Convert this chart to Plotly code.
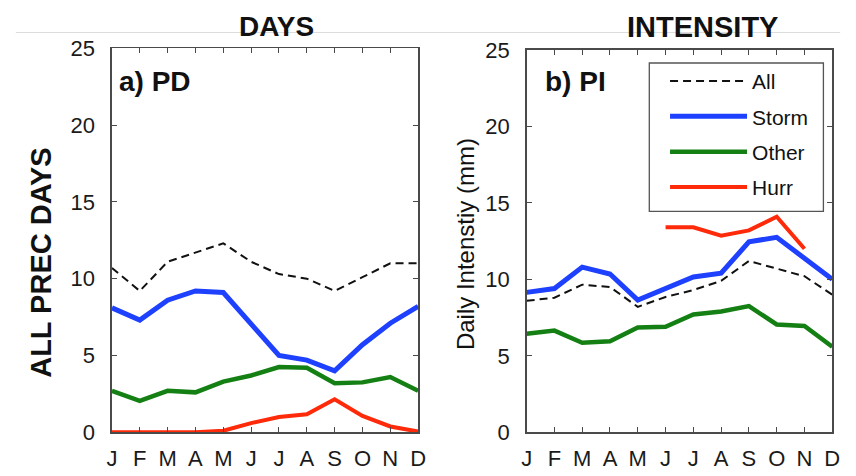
import plotly.graph_objects as go

# ---------------- data ----------------
months = ["J", "F", "M", "A", "M", "J", "J", "A", "S", "O", "N", "D"]
month_idx = list(range(12))

# a) PD : precipitation days
pd_all = [10.7, 9.2, 11.1, 11.7, 12.3, 11.1, 10.3, 10.0, 9.2, 10.1, 11.0, 11.0]
pd_storm = [8.1, 7.3, 8.6, 9.2, 9.1, 7.1, 5.0, 4.7, 4.0, 5.7, 7.1, 8.2]
pd_other = [2.7, 2.05, 2.7, 2.6, 3.3, 3.7, 4.25, 4.2, 3.2, 3.25, 3.6, 2.7]
pd_hurr = [0.0, 0.0, 0.0, 0.0, 0.1, 0.6, 1.0, 1.17, 2.15, 1.07, 0.38, 0.05]

# b) PI : daily intensity (mm)
pi_all = [8.6, 8.8, 9.65, 9.5, 8.2, 8.85, 9.3, 9.9, 11.2, 10.7, 10.2, 9.0]
pi_storm = [9.15, 9.4, 10.8, 10.35, 8.65, 9.4, 10.15, 10.4, 12.45, 12.75, 11.4, 10.0]
pi_other = [6.45, 6.65, 5.85, 5.95, 6.85, 6.9, 7.7, 7.9, 8.25, 7.05, 6.95, 5.6]
pi_hurr = [None, None, None, None, None, 13.4, 13.4, 12.85, 13.2, 14.1, 12.0, None]

y_ticks = [0, 5, 10, 15, 20, 25]

# ---------------- styling ----------------
W, H = 856, 476
FONT = "Liberation Sans, Arial, sans-serif"
C_ALL, C_STORM, C_OTHER, C_HURR = "#111111", "#1e40ff", "#148014", "#ff2a0a"
AX_COL = "#4a4a4a"
# measured: picture_y = 8.1 + 0.9646 * page_y (horizontal is 1:1)
V_OFF, V_SCALE = 8.1, 0.9646


def px(x):
    """picture x -> paper x"""
    return x / W


def page_y(y):
    return (y - V_OFF) / V_SCALE


def py(y):
    """picture y -> paper y"""
    return 1 - page_y(y) / H


fig = go.Figure()

series = [
    ("All", C_ALL, 2, "8px,5px", pd_all, pi_all),
    ("Storm", C_STORM, 5, "solid", pd_storm, pi_storm),
    ("Other", C_OTHER, 4.5, "solid", pd_other, pi_other),
    ("Hurr", C_HURR, 4, "solid", pd_hurr, pi_hurr),
]

for name, col, w, dash, ya, yb in series:
    fig.add_trace(go.Scatter(x=month_idx, y=ya, mode="lines", name=name,
                             line=dict(color=col, width=w, dash=dash),
                             xaxis="x", yaxis="y", showlegend=False,
                             hoverinfo="skip"))
for name, col, w, dash, ya, yb in series:
    fig.add_trace(go.Scatter(x=month_idx, y=yb, mode="lines", name=name,
                             line=dict(color=col, width=w, dash=dash),
                             xaxis="x2", yaxis="y2", showlegend=True,
                             legendgroup=name, hoverinfo="skip"))

xcommon = dict(range=[0, 11], tickvals=month_idx, ticktext=months,
               ticks="inside", ticklen=5, tickcolor=AX_COL, tickwidth=1,
               showline=True, linecolor=AX_COL, linewidth=1.5, mirror="ticks",
               showgrid=False, zeroline=False, fixedrange=True,
               tickfont=dict(family=FONT, size=22, color="#1a1a1a"),
               ticklabelstandoff=6)
ycommon = dict(range=[0, 25], tickvals=y_ticks,
               ticks="inside", ticklen=5, tickcolor=AX_COL, tickwidth=1,
               showline=True, linecolor=AX_COL, linewidth=1.5, mirror="ticks",
               showgrid=False, zeroline=False, fixedrange=True,
               tickfont=dict(family=FONT, size=22, color="#1a1a1a"),
               ticklabelstandoff=11)

fig.update_layout(
    width=W, height=H, autosize=False,
    margin=dict(l=0, r=0, t=0, b=0),
    paper_bgcolor="white", plot_bgcolor="white",
    font=dict(family=FONT, color="#111"),
    xaxis=dict(domain=[px(107.7), px(419)], anchor="y", **xcommon),
    yaxis=dict(domain=[py(436), py(45)], anchor="x", **ycommon),
    xaxis2=dict(domain=[px(529.3), px(840)], anchor="y2", **xcommon),
    yaxis2=dict(domain=[py(436), py(46.7)], anchor="x2", **ycommon),
    legend=dict(x=px(670), y=1 - 51.6 / H, xanchor="left", yanchor="top",
                bgcolor="rgba(0,0,0,0)", borderwidth=0,
                font=dict(family=FONT, size=21, color="#111"),
                itemwidth=77, tracegroupgap=5, traceorder="grouped"),
    showlegend=True,
)

# faint separator line across top
fig.add_shape(type="line", xref="paper", yref="paper",
              x0=px(10), x1=px(848), y0=py(29), y1=py(29),
              line=dict(color="#dcdcdc", width=1), layer="below")
# legend frame
fig.add_shape(type="rect", xref="paper", yref="paper",
              x0=px(654), x1=px(831), y0=py(211), y1=py(60),
              line=dict(color="#555", width=1.3), fillcolor="white", layer="below")

ann = [
    dict(text="<b>DAYS</b>", x=px(275), y=py(23), size=28),
    dict(text="<b>INTENSITY</b>", x=px(708), y=py(23), size=29),
    dict(text="<b>a) PD</b>", x=px(113), y=py(79), size=28, xanchor="left"),
    dict(text="<b>b) PI</b>", x=px(546), y=py(79), size=28, xanchor="left"),
]
for a in ann:
    fig.add_annotation(text=a["text"], x=a["x"], y=a["y"], xref="paper", yref="paper",
                       xanchor=a.get("xanchor", "center"), yanchor="middle",
                       showarrow=False, font=dict(family=FONT, size=a["size"], color="#111"))

fig.add_annotation(text="<b>ALL PREC DAYS</b>", x=px(36), y=py(263), xref="paper", yref="paper",
                   textangle=-90, showarrow=False, xanchor="center", yanchor="middle",
                   font=dict(family=FONT, size=29, color="#111"))
fig.add_annotation(text="Daily Intenstiy (mm)", x=px(467), y=py(244), xref="paper", yref="paper",
                   textangle=-90, showarrow=False, xanchor="center", yanchor="middle",
                   font=dict(family=FONT, size=24, color="#111"))

fig.write_html(
    "out.html",
    config={"displayModeBar": False, "staticPlot": True},
    post_script="document.body.style.margin='0';document.body.style.overflow='hidden';",
)
